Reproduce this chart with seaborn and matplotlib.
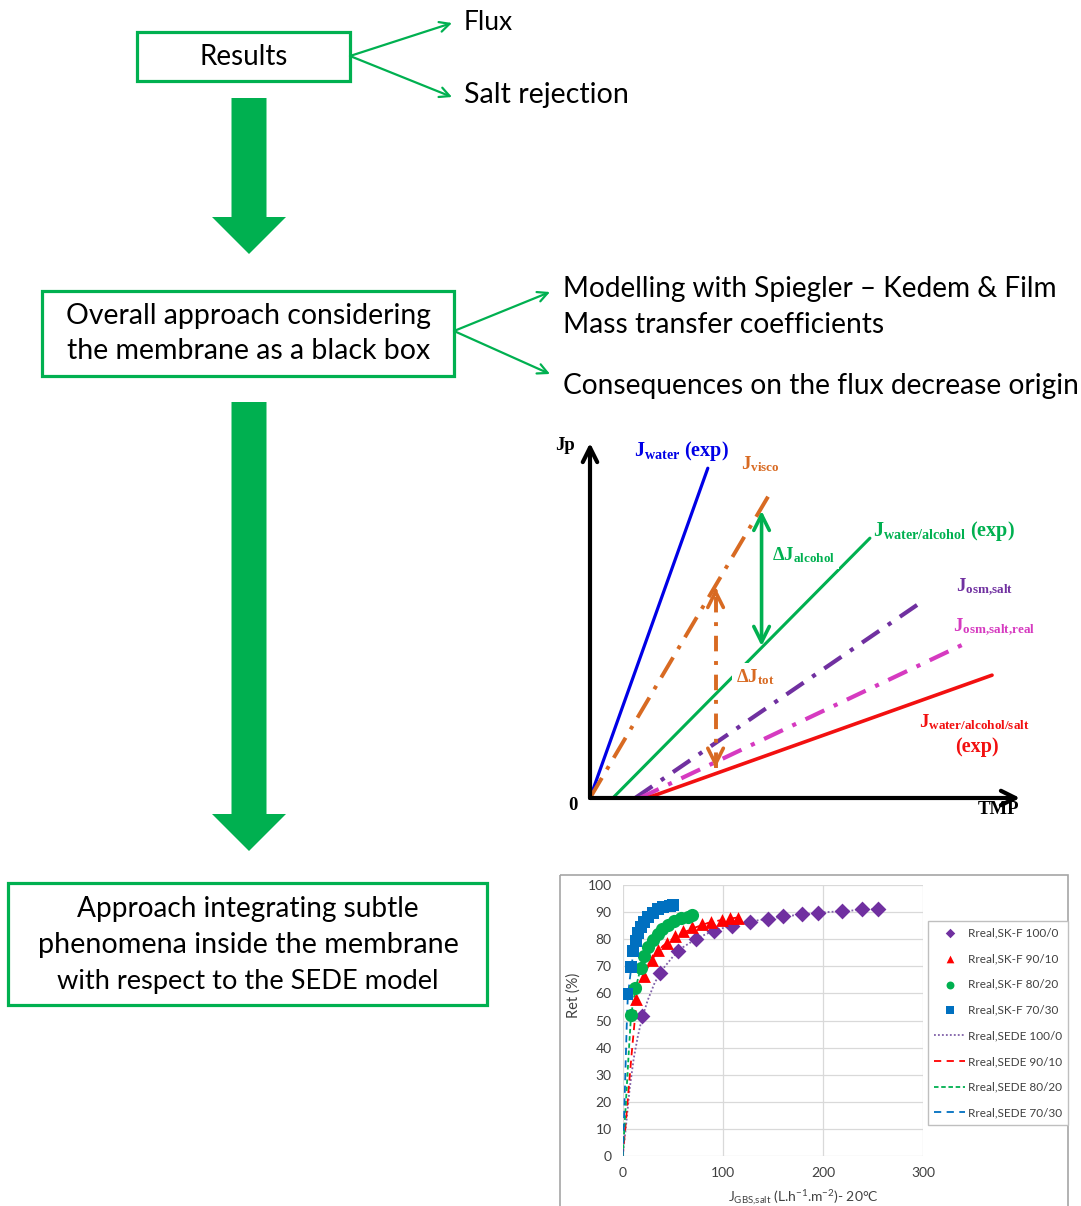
import numpy as np
import pandas as pd
import matplotlib
matplotlib.use('Agg')
import matplotlib.pyplot as plt
import matplotlib.patches as mpatches
import seaborn as sns

sns.set_theme(style='white')
plt.rcParams['font.family'] = ['Lato', 'DejaVu Sans']
plt.rcParams['mathtext.fontset'] = 'custom'
plt.rcParams['mathtext.rm'] = 'Liberation Serif:bold'
plt.rcParams['mathtext.bf'] = 'Liberation Serif:bold'
plt.rcParams['mathtext.it'] = 'Liberation Serif:bold'
plt.rcParams['mathtext.sf'] = 'Lato'

W, H = 1081, 1206
GREEN = '#00B050'

# ---------------- flowchart texts ----------------
box_texts = ['Results',
             'Overall approach considering\nthe membrane as a black box',
             'Approach integrating subtle\nphenomena inside the membrane\nwith respect to the SEDE model']
side_texts_1 = ['Flux', 'Salt rejection']
side_texts_2 = ['Modelling with Spiegler \u2013 Kedem & Film', 'Mass transfer coefficients',
                'Consequences on the flux decrease origin']

# ---------------- schematic (TMP vs Jp, normalised) ----------------
sch_labels = ['Jwater', 'Jvisco', 'Jwater/alcohol', 'Josm,salt', 'Josm,salt,real', 'Jwater/alcohol/salt']
sch_tmp_start = [0.0, 0.0, 0.053, 0.105, 0.116, 0.133]
sch_tmp_end = [0.274, 0.419, 0.651, 0.767, 0.865, 0.935]
sch_jp_end = [0.929, 0.859, 0.732, 0.549, 0.431, 0.346]
dj_alcohol_tmp = 0.399
dj_alcohol_jp = [0.428, 0.809]
dj_tot_tmp = 0.292
dj_tot_jp = [0.085, 0.592]

# ---------------- retention chart ----------------
skf_100_x = [19, 37, 55, 73, 91, 109, 127, 145, 160, 179, 195, 219, 239, 255]
skf_100_y = [51.6, 67.6, 75.6, 80.0, 82.9, 85.0, 86.5, 87.5, 88.4, 89.4, 89.8, 90.4, 91.0, 91.3]
skf_90_x = [13.6, 21.6, 29.6, 35.6, 43.9, 52.2, 60.5, 68.8, 78.8, 87.8, 98.8, 107, 115.4]
skf_90_y = [57.8, 66.4, 72.3, 76.0, 78.7, 81.2, 83.0, 84.4, 85.5, 86.5, 87.1, 87.7, 88.0]
skf_80_x = [8.3, 12.6, 18.3, 21.6, 25.6, 29.9, 34.9, 39.6, 45.6, 51.5, 58.2, 64.8, 68.8]
skf_80_y = [52.0, 61.9, 69.5, 73.8, 77.2, 79.7, 81.8, 83.6, 85.2, 86.7, 87.7, 88.3, 88.9]
skf_70_x = [4.7, 8.3, 10.6, 13.0, 15.6, 18.3, 21.6, 25.6, 29.9, 34.9, 40.6, 47.2, 50.5]
skf_70_y = [59.8, 69.6, 75.6, 79.3, 82.2, 84.6, 86.5, 88.3, 89.8, 91.0, 91.8, 92.4, 92.6]

sede_100_x = [0, 3, 7, 11, 15, 19, 25, 32, 40, 50, 60, 75, 90, 110, 130, 150, 175, 200, 225, 255]
sede_100_y = [0, 10, 25, 36, 44, 50.5, 57.5, 64, 69, 73.5, 77, 80.5, 83, 85.2, 86.7, 87.8, 89, 89.9, 90.5, 91.2]
sede_90_x = [0, 3, 6, 9, 12, 14, 18, 22, 30, 40, 55, 70, 85, 100, 118]
sede_90_y = [0, 12, 25, 38, 50, 57, 63, 67.5, 73, 77.5, 81.5, 84, 86, 87.2, 88.2]
sede_80_x = [0, 2, 4, 6, 8, 10, 13, 17, 22, 30, 40, 52, 60, 70]
sede_80_y = [0, 12, 25, 38, 50, 56, 62, 68, 73.5, 79, 83.5, 86.5, 88, 89]
sede_70_x = [0, 1, 2, 3, 4, 5, 7, 9, 12, 15, 20, 26, 35, 45, 52]
sede_70_y = [0, 10, 22, 35, 48, 58, 65, 71, 77, 81.5, 85.5, 88.5, 91, 92.3, 92.7]

ret_xticks = [0, 100, 200, 300]
ret_yticks = list(range(0, 101, 10))

fig = plt.figure(figsize=(W / 100, H / 100), dpi=100)
fig.patch.set_facecolor('white')
bg = fig.add_axes([0, 0, 1, 1])
bg.set_xlim(0, W)
bg.set_ylim(H, 0)
bg.axis('off')
renderer = fig.canvas.get_renderer()

# boxes
for (x0, y0, x1, y1) in [(137, 32, 350, 81), (42, 291, 454, 376), (8, 883, 487, 1005)]:
    bg.add_patch(mpatches.Rectangle((x0, y0), x1 - x0, y1 - y0, fill=False,
                                    edgecolor=GREEN, lw=2.3))

# big block arrows
for (y0, y1) in [(98, 254), (402, 851)]:
    bg.add_patch(mpatches.FancyArrow(249, y0, 0, y1 - y0, width=35, head_width=74,
                                     head_length=37, length_includes_head=True,
                                     color=GREEN, lw=0))

# thin arrows
for (sx, sy, ex, ey) in [(350, 56, 452, 23), (350, 56, 452, 97),
                         (454, 331, 550, 292), (454, 331, 550, 374)]:
    bg.annotate('', xy=(ex, ey), xytext=(sx, sy),
                arrowprops=dict(arrowstyle='->', color=GREEN, lw=1.6,
                                mutation_scale=18, shrinkA=0, shrinkB=0))

def fit(t, target):
    bb = t.get_window_extent(renderer)
    t.set_fontsize(t.get_fontsize() * target / bb.width)
    return t

fs0 = 18
t = bg.text(243.5, 57, box_texts[0], ha='center', va='center', fontsize=fs0, color='black')
fit(t, 88)
t = bg.text(464, 22, side_texts_1[0], ha='left', va='center', fontsize=fs0, color='black')
fit(t, 49)
t = bg.text(464, 95, side_texts_1[1], ha='left', va='center', fontsize=fs0, color='black')
fit(t, 164)
lines2 = box_texts[1].split('\n')
for ln, yy, wd in zip(lines2, [316, 351], [363, 362]):
    t = bg.text(248.5, yy, ln, ha='center', va='center', fontsize=fs0, color='black')
    fit(t, wd)
for ln, yy, wd in zip(side_texts_2, [289, 325, 386], [494, 321, 514]):
    t = bg.text(563, yy, ln, ha='left', va='center', fontsize=fs0, color='black')
    fit(t, wd)
lines3 = box_texts[2].split('\n')
for ln, yy, wd in zip(lines3, [909, 945, 981], [341, 419, 381]):
    t = bg.text(248, yy, ln, ha='center', va='center', fontsize=fs0, color='black')
    fit(t, wd)

# ---------------- schematic ----------------
sch = fig.add_axes([590 / W, 1 - 798 / H, 430 / W, 355 / H])
sch.set_xlim(0, 1)
sch.set_ylim(0, 1)
sch.axis('off')
sch.patch.set_alpha(0)

sch_colors = ['#0000E6', '#D86A22', GREEN, '#7030A0', '#D63AC0', '#F21010']
sch_styles = ['-', (0, (6, 2.5, 1, 2.5)), '-', (0, (5, 2.5, 1, 2.5)), (0, (5, 2.5, 1, 2.5)), '-']
sch_lw = [2.3, 2.8, 2.2, 3.0, 3.0, 2.6]
for i in range(len(sch_labels)):
    df = pd.DataFrame({'TMP': [sch_tmp_start[i], sch_tmp_end[i]], 'Jp': [0.0, sch_jp_end[i]]})
    sns.lineplot(data=df, x='TMP', y='Jp', ax=sch, color=sch_colors[i], lw=sch_lw[i],
                 linestyle=sch_styles[i], zorder=2, clip_on=False)
sch.set_xlabel('')
sch.set_ylabel('')

for xy in [(1.0, 0.0), (0.0, 1.0)]:
    sch.annotate('', xy=xy, xytext=(0, 0), xycoords='data',
                 arrowprops=dict(arrowstyle='->', color='black', lw=3.0,
                                 mutation_scale=26, shrinkA=0, shrinkB=0), zorder=5)

sch.annotate('', xy=(dj_alcohol_tmp, dj_alcohol_jp[1]), xytext=(dj_alcohol_tmp, dj_alcohol_jp[0]),
             arrowprops=dict(arrowstyle='<->', color=GREEN, lw=2.6,
                             mutation_scale=28, shrinkA=0, shrinkB=0), zorder=4)
sns.lineplot(x=[dj_tot_tmp, dj_tot_tmp], y=dj_tot_jp, ax=sch, color='#D86A22', lw=2.8,
             linestyle=(0, (4, 2.5, 1, 2.5)), zorder=4, estimator=None, sort=False)
sch.set_xlabel('')
sch.set_ylabel('')
for yt, yf in [(dj_tot_jp[1], dj_tot_jp[1] - 0.01), (dj_tot_jp[0], dj_tot_jp[0] + 0.01)]:
    sch.annotate('', xy=(dj_tot_tmp, yt), xytext=(dj_tot_tmp, yf),
                 arrowprops=dict(arrowstyle='->', color='#D86A22', lw=2.6,
                                 mutation_scale=28, shrinkA=0, shrinkB=0), zorder=4)

serif = dict(family='Liberation Serif', weight='bold')
tr = bg.transData
def stext(x, y, s, color, size, box=False, ha='left'):
    kw = {}
    if box:
        kw['bbox'] = dict(boxstyle='square,pad=0.2', fc='white', ec='none')
    sch.text(x, y, s, transform=tr, color=color, fontsize=size, ha=ha, va='center',
             clip_on=False, zorder=6, **serif, **kw)

stext(565, 446, 'Jp', 'black', 13.5, ha='center')
stext(573, 805, '0', 'black', 13.5, ha='center')
stext(998, 809, 'TMP', 'black', 13.5, ha='center')
stext(634, 451, r'$\mathbf{J}_{\mathbf{water}}$ (exp)', '#0000E6', 14.5)
stext(741, 464, r'$\mathbf{J}_{\mathbf{visco}}$', '#D86A22', 13.5)
stext(772, 555, r'Δ$\mathbf{J}_{\mathbf{alcohol}}$', GREEN, 13.5, box=True)
stext(873, 531, r'$\mathbf{J}_{\mathbf{water/alcohol}}$ (exp)', GREEN, 14.5)
stext(956, 587, r'$\mathbf{J}_{\mathbf{osm{,}salt}}$', '#7030A0', 13.5)
stext(953, 627, r'$\mathbf{J}_{\mathbf{osm{,}salt{,}real}}$', '#D63AC0', 13.5)
stext(736, 677, r'Δ$\mathbf{J}_{\mathbf{tot}}$', '#D86A22', 13.5, box=True)
stext(919, 722, r'$\mathbf{J}_{\mathbf{water/alcohol/salt}}$', '#F21010', 13.5)
stext(977, 747, '(exp)', '#F21010', 14.5, ha='center')

# ---------------- retention chart ----------------
bg.add_patch(mpatches.Rectangle((560, 875), 1068 - 560, 345, fill=False,
                                edgecolor='#A6A6A6', lw=1.2))
ret = fig.add_axes([622.7 / W, 1 - 1156 / H, 300.6 / W, 271 / H])
ret.set_xlim(0, 300)
ret.set_ylim(0, 100)
for s in ret.spines.values():
    s.set_visible(False)
ret.set_xticks(ret_xticks)
ret.set_yticks(ret_yticks)
ret.grid(True, color='#D9D9D9', lw=0.9)
ret.set_axisbelow(True)
ret.tick_params(axis='both', length=0, labelsize=10, labelcolor='#404040', pad=8)
ret.patch.set_alpha(0)

C_P, C_R, C_G, C_B = '#7030A0', '#FF0000', '#00B050', '#0070C0'
sede = [(sede_100_x, sede_100_y, '#8060A8', (0, (1, 1.2)), 'Rreal,SEDE 100/0'),
        (sede_90_x, sede_90_y, C_R, (0, (4, 3)), 'Rreal,SEDE 90/10'),
        (sede_80_x, sede_80_y, C_G, (0, (2.5, 1.5)), 'Rreal,SEDE 80/20'),
        (sede_70_x, sede_70_y, C_B, (0, (4, 3)), 'Rreal,SEDE 70/30')]
for xs, ys, c, ls, lab in sede:
    sns.lineplot(x=xs, y=ys, ax=ret, color=c, lw=1.3, linestyle=ls, label=lab,
                 estimator=None, sort=False, zorder=2)
skf = [(skf_100_x, skf_100_y, C_P, 'D', 65, 'Rreal,SK-F 100/0'),
       (skf_90_x, skf_90_y, C_R, '^', 85, 'Rreal,SK-F 90/10'),
       (skf_80_x, skf_80_y, C_G, 'o', 90, 'Rreal,SK-F 80/20'),
       (skf_70_x, skf_70_y, C_B, 's', 75, 'Rreal,SK-F 70/30')]
for xs, ys, c, m, sz, lab in skf:
    sns.scatterplot(x=xs, y=ys, ax=ret, color=c, marker=m, s=sz, linewidth=0,
                    label=lab, zorder=3)

handles, labels = ret.get_legend_handles_labels()
order = ['Rreal,SK-F 100/0', 'Rreal,SK-F 90/10', 'Rreal,SK-F 80/20', 'Rreal,SK-F 70/30',
         'Rreal,SEDE 100/0', 'Rreal,SEDE 90/10', 'Rreal,SEDE 80/20', 'Rreal,SEDE 70/30']
hmap = dict(zip(labels, handles))
leg = ret.legend([hmap[k] for k in order], order, loc='upper left',
                 bbox_to_anchor=(927.7 / W, 1 - 920.7 / H), bbox_transform=fig.transFigure,
                 borderaxespad=0, fontsize=8.5, frameon=True, fancybox=False,
                 edgecolor='#BFBFBF', framealpha=1, labelspacing=1.25,
                 handlelength=2.6, handletextpad=0.25, borderpad=0.55, markerscale=0.6,
                 labelcolor='#404040')
leg.get_frame().set_linewidth(1.0)

fig.text(574 / W, 1 - 995 / H, 'Ret (%)', rotation=90, ha='center', va='center',
         fontsize=10.5, color='#404040')
fig.text(803 / W, 1 - 1198 / H,
         r'$\mathsf{J}_{\mathsf{GBS{,}salt}}$ (L.h$^{\mathsf{-1}}$.m$^{\mathsf{-2}}$)- 20°C',
         ha='center', va='center', fontsize=10, color='#404040')

fig.savefig('out.png', dpi=100, facecolor='white')
